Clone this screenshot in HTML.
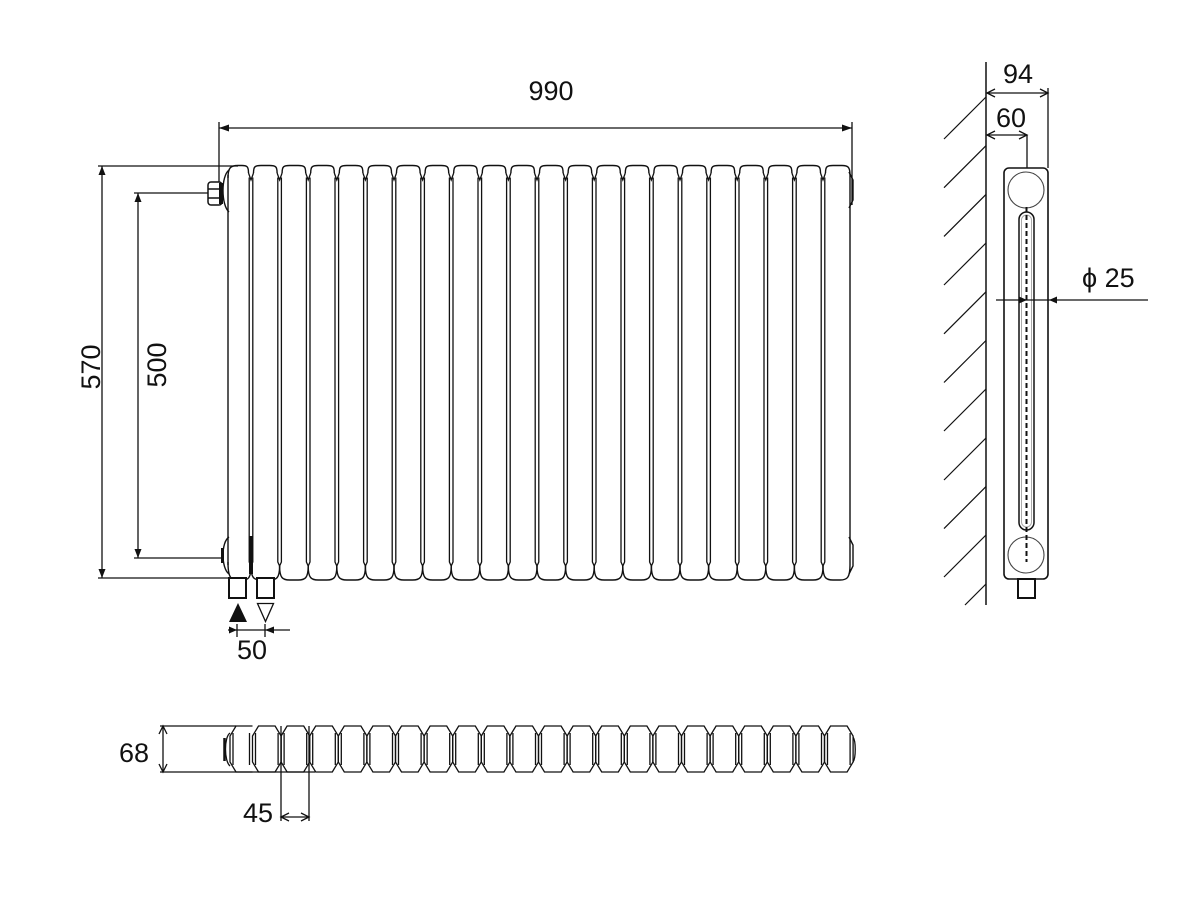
<!DOCTYPE html>
<html>
<head>
<meta charset="utf-8">
<style>
html,body{margin:0;padding:0;background:#fff;}
svg{display:block;}
text{font-family:"Liberation Sans",sans-serif;font-size:27px;fill:#111;}
</style>
</head>
<body>
<svg width="1200" height="900" viewBox="0 0 1200 900" xmlns="http://www.w3.org/2000/svg">
<defs>
  <g id="sec" fill="none" stroke="#111" stroke-width="1.4">
    <path d="M2.5,173 C2.5,166.5 4,165.5 10,165.5 L18.6,165.5 C24.6,165.5 26.1,166.5 26.1,173"/>
    <path d="M0,566 C0,578 3,580 10,580 L18.6,580 C25.6,580 28.6,578 28.6,566"/>
  </g>
  <g id="jn" fill="none" stroke="#111" stroke-width="1.3">
    <path d="M-2.5,173 L0,180 L2.5,173"/>
    <path d="M-1.8,177.5 V562 L0,566 L1.8,562 V177.5"/>
  </g>
  <g id="pl" fill="none" stroke="#111" stroke-width="1.3">
    <path d="M0,736 L6,726 L22.6,726 L28.6,736 L28.6,762 L22.6,772 L6,772 L0,762 Z"/>
    <path d="M3,733 V765 M25.6,733 V765"/>
  </g>
</defs>

<!-- ===== FRONT VIEW ===== -->
<g>
  <g fill="none" stroke="#111" stroke-width="1.4">
    <path d="M228,178 C228,167 231,165.5 238,165.5 L242,165.5 C247,165.5 248.5,166.5 248.5,173"/>
    <path d="M228,175 V565"/>
    <path d="M228,562 C228,578 231,580 238,580 L243,580 C248,580 251,578 251,566"/>
    <path d="M229,170 C221,176 221,205 229,212"/>
    <path d="M229,537 C221,542 221,568 229,574"/>
  </g>
  <path d="M222.5,548 V563" stroke="#111" stroke-width="3"/>
  <rect x="249" y="536" width="4" height="38" fill="#111"/>

  <use href="#sec" x="251"/>
  <use href="#sec" x="279.6"/>
  <use href="#sec" x="308.2"/>
  <use href="#sec" x="336.8"/>
  <use href="#sec" x="365.4"/>
  <use href="#sec" x="394"/>
  <use href="#sec" x="422.6"/>
  <use href="#sec" x="451.2"/>
  <use href="#sec" x="479.8"/>
  <use href="#sec" x="508.4"/>
  <use href="#sec" x="537"/>
  <use href="#sec" x="565.6"/>
  <use href="#sec" x="594.2"/>
  <use href="#sec" x="622.8"/>
  <use href="#sec" x="651.4"/>
  <use href="#sec" x="680"/>
  <use href="#sec" x="708.6"/>
  <use href="#sec" x="737.2"/>
  <use href="#sec" x="765.8"/>
  <use href="#sec" x="794.4"/>

  <use href="#jn" x="251"/>
  <use href="#jn" x="279.6"/>
  <use href="#jn" x="308.2"/>
  <use href="#jn" x="336.8"/>
  <use href="#jn" x="365.4"/>
  <use href="#jn" x="394"/>
  <use href="#jn" x="422.6"/>
  <use href="#jn" x="451.2"/>
  <use href="#jn" x="479.8"/>
  <use href="#jn" x="508.4"/>
  <use href="#jn" x="537"/>
  <use href="#jn" x="565.6"/>
  <use href="#jn" x="594.2"/>
  <use href="#jn" x="622.8"/>
  <use href="#jn" x="651.4"/>
  <use href="#jn" x="680"/>
  <use href="#jn" x="708.6"/>
  <use href="#jn" x="737.2"/>
  <use href="#jn" x="765.8"/>
  <use href="#jn" x="794.4"/>
  <use href="#jn" x="823"/>

  <g fill="none" stroke="#111" stroke-width="1.4">
    <path d="M825.5,173 C825.5,166.5 827,165.5 833,165.5 L842,165.5 C848,165.5 850,167 850,175 V565 C850,578 847,580 840,580 L833,580 C826,580 823,578 823,566"/>
    <path d="M849,172 L853,180 V200 L849,208"/>
    <path d="M849,537 L853,545 V566 L849,574"/>
  </g>

  <g stroke="#111" stroke-width="1.5" fill="#fff">
    <rect x="208" y="182" width="14" height="23" rx="3"/>
    <path d="M208,189 H222 M208,198 H222" fill="none"/>
  </g>
  <rect x="219" y="183" width="4" height="21" fill="#111"/>

  <g fill="#fff" stroke="#111" stroke-width="2">
    <rect x="229" y="578" width="17" height="20"/>
    <rect x="257" y="578" width="17" height="20"/>
  </g>
  <polygon points="229,622 247,622 238,603" fill="#111"/>
  <polygon points="257.5,603.5 273.5,603.5 265.5,621.5" fill="none" stroke="#111" stroke-width="1.3"/>
</g>

<!-- front dimensions -->
<g stroke="#111" stroke-width="1.3" fill="none">
  <path d="M219,122 V182"/>
  <path d="M852,122 V205"/>
  <path d="M219,128 H852"/>
  <path d="M98,166 H238"/>
  <path d="M98,578 H229"/>
  <path d="M102,166 V578"/>
  <path d="M134,193 H208"/>
  <path d="M134,558 H222"/>
  <path d="M138,193 V558"/>
  <path d="M228,630 H290"/>
  <path d="M237,624 V637 M265,624 V637"/>
</g>
<g fill="#111">
  <polygon points="219,128 229,124.5 229,131.5"/>
  <polygon points="852,128 842,124.5 842,131.5"/>
  <polygon points="102,166 98.5,175 105.5,175"/>
  <polygon points="102,578 98.5,569 105.5,569"/>
  <polygon points="138,193 134.5,202 141.5,202"/>
  <polygon points="138,558 134.5,549 141.5,549"/>
  <polygon points="237,630 229,626.5 229,633.5"/>
  <polygon points="265,630 274,626.5 274,633.5"/>
</g>
<text x="551" y="100" text-anchor="middle">990</text>
<text transform="translate(100,367) rotate(-90)" text-anchor="middle">570</text>
<text transform="translate(166,365) rotate(-90)" text-anchor="middle">500</text>
<text x="252" y="659" text-anchor="middle">50</text>

<!-- ===== SIDE VIEW ===== -->
<g stroke="#111" stroke-width="1.2" fill="none">
  <path d="M986,62 V605" stroke-width="1.5"/>
  <path d="M986,97 L944,139"/>
  <path d="M986,145.7 L944,187.7"/>
  <path d="M986,194.4 L944,236.4"/>
  <path d="M986,243 L944,285"/>
  <path d="M986,291.8 L944,333.8"/>
  <path d="M986,340.5 L944,382.5"/>
  <path d="M986,389 L944,431"/>
  <path d="M986,438 L944,480"/>
  <path d="M986,486.6 L944,528.6"/>
  <path d="M986,535 L944,577"/>
  <path d="M986,584 L965,605"/>
</g>
<g stroke="#111" stroke-width="1.3" fill="none">
  <path d="M987,93 H1048"/>
  <path d="M995,89 L987,93 L995,97 M1040,89 L1048,93 L1040,97"/>
  <path d="M1048,88 V168"/>
  <path d="M987,135 H1027"/>
  <path d="M995,131 L987,135 L995,139 M1019,131 L1027,135 L1019,139"/>
  <path d="M1027,135 V168"/>
</g>
<g fill="none" stroke="#111">
  <rect x="1004" y="168" width="44" height="411" rx="5" stroke-width="1.6"/>
  <circle cx="1026" cy="190" r="18" stroke-width="1.1" stroke="#444"/>
  <circle cx="1026" cy="555" r="18" stroke-width="1.1" stroke="#444"/>
  <rect x="1019" y="212" width="15" height="318" rx="7.5" stroke-width="1.5"/>
  <rect x="1021.5" y="215" width="10" height="312" rx="5" stroke-width="1" stroke="#aaa"/>
  <path d="M1026.5,207 V562" stroke-width="2" stroke-dasharray="5 3"/>
  <rect x="1018" y="579" width="17" height="19" stroke-width="2" fill="#fff"/>
  <path d="M996,300 H1148" stroke-width="1.3"/>
</g>
<g fill="#111">
  <polygon points="1027,300 1019,296.5 1019,303.5"/>
  <polygon points="1049,300 1057,296.5 1057,303.5"/>
</g>
<text x="1018" y="83" text-anchor="middle">94</text>
<text x="1011" y="127" text-anchor="middle">60</text>
<text x="1082" y="287">ϕ 25</text>

<!-- ===== PLAN VIEW ===== -->
<g fill="none" stroke="#111" stroke-width="1.3">
  <path d="M252.5,726 L236,726 L230,736 V762 L236,772 L252.5,772"/>
  <path d="M249.5,733 V765 M233,733 V765"/>
  <path d="M230,733 C224,737 224,761 230,766"/>
  <path d="M853,737 C856,741 856,758 853,762"/>
</g>
<path d="M224.5,738 V761" stroke="#111" stroke-width="2.5"/>
<use href="#pl" x="252.5"/>
<use href="#pl" x="281.1"/>
<use href="#pl" x="309.7"/>
<use href="#pl" x="338.3"/>
<use href="#pl" x="366.9"/>
<use href="#pl" x="395.5"/>
<use href="#pl" x="424.1"/>
<use href="#pl" x="452.7"/>
<use href="#pl" x="481.3"/>
<use href="#pl" x="509.9"/>
<use href="#pl" x="538.5"/>
<use href="#pl" x="567.1"/>
<use href="#pl" x="595.7"/>
<use href="#pl" x="624.3"/>
<use href="#pl" x="652.9"/>
<use href="#pl" x="681.5"/>
<use href="#pl" x="710.1"/>
<use href="#pl" x="738.7"/>
<use href="#pl" x="767.3"/>
<use href="#pl" x="795.9"/>
<use href="#pl" x="824.5"/>

<g stroke="#111" stroke-width="1.3" fill="none">
  <path d="M160,726 H236"/>
  <path d="M160,772 H315"/>
  <path d="M163,726 V772"/>
  <path d="M281,726 V821 M309,726 V821"/>
  <path d="M281,817 H309"/>
  <path d="M159,734 L163,726 L167,734 M159,764 L163,772 L167,764"/>
  <path d="M289,813 L281,817 L289,821 M301,813 L309,817 L301,821"/>
</g>
<text x="134" y="762" text-anchor="middle">68</text>
<text x="258" y="822" text-anchor="middle">45</text>
</svg>
</body>
</html>
